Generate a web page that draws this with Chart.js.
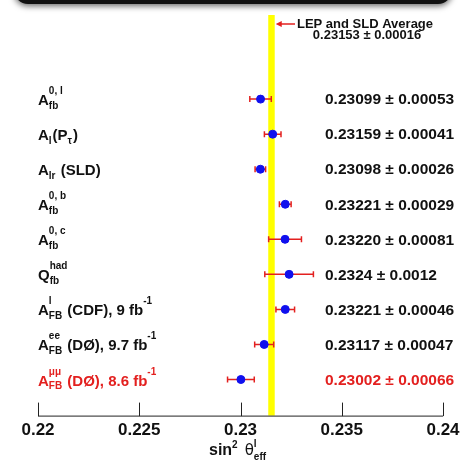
<!DOCTYPE html>
<html>
<head>
<meta charset="utf-8">
<script src="https://cdn.jsdelivr.net/npm/chart.js@4/dist/chart.umd.min.js"></script>
<style>
  body { margin: 0; background: #fff; }
  canvas { display: block; }
</style>
</head>
<body>
<canvas id="ewChart" width="462" height="476"></canvas>
<script>
// measurement names (main text + sub/superscripts)
const labels = [
  ['A', {sub: 'fb', sup: '0, l'}],
  ['A', {sub: 'l'}, '(P', {sub: 'τ'}, ')'],
  ['A', {sub: 'lr'}, ' (SLD)'],
  ['A', {sub: 'fb', sup: '0, b'}],
  ['A', {sub: 'fb', sup: '0, c'}],
  ['Q', {sub: 'fb', sup: 'had'}],
  ['A', {sub: 'FB', sup: 'l'}, ' (CDF), 9 fb', {sup: '-1'}],
  ['A', {sub: 'FB', sup: 'ee'}, ' (DØ), 9.7 fb', {sup: '-1'}],
  ['A', {sub: 'FB', sup: 'μμ'}, ' (DØ), 8.6 fb', {sup: '-1'}]
];
const values = [0.23099, 0.23159, 0.23098, 0.23221, 0.23220, 0.2324, 0.23221, 0.23117, 0.23002];
const errors = [0.00053, 0.00041, 0.00026, 0.00029, 0.00081, 0.0012, 0.00046, 0.00047, 0.00066];
const valueText = [
  '0.23099 ± 0.00053', '0.23159 ± 0.00041', '0.23098 ± 0.00026',
  '0.23221 ± 0.00029', '0.23220 ± 0.00081', '0.2324 ± 0.0012',
  '0.23221 ± 0.00046', '0.23117 ± 0.00047', '0.23002 ± 0.00066'
];
const average = 0.23153;
const averageErr = 0.00016;
const xTicks = [0.22, 0.225, 0.23, 0.235, 0.24];

const RED = '#e3201f';
const BLUE = '#1010ee';

// row position: first row at the top
const rowY = i => 9 - i;

function drawRich(ctx, x, y, parts, color, mainFont, smallFont, subDy = 3.5, supDy = -11) {
  ctx.fillStyle = color;
  ctx.textBaseline = 'alphabetic';
  ctx.textAlign = 'left';
  parts.forEach(p => {
    if (typeof p === 'string') {
      ctx.font = mainFont;
      ctx.fillText(p, x, y);
      x += ctx.measureText(p).width;
    } else {
      ctx.font = smallFont;
      let w = 0;
      if (p.sub) { ctx.fillText(p.sub, x, y + subDy); w = Math.max(w, ctx.measureText(p.sub).width); }
      if (p.sup) { ctx.fillText(p.sup, x, y + supDy); w = Math.max(w, ctx.measureText(p.sup).width); }
      x += w + 1;
    }
  });
  return x;
}

const overlay = {
  id: 'overlay',
  beforeDatasetsDraw(chart) {
    const ctx = chart.ctx;
    const xs = chart.scales.x, ys = chart.scales.y;
    const area = chart.chartArea;
    ctx.save();
    // yellow band for the average
    const b0 = xs.getPixelForValue(average - averageErr);
    const b1 = xs.getPixelForValue(average + averageErr);
    ctx.fillStyle = '#ffff00';
    ctx.fillRect(b0, area.top, b1 - b0, area.bottom - area.top);
    // axis line + upward ticks
    ctx.strokeStyle = '#222';
    ctx.lineWidth = 1;
    ctx.beginPath();
    ctx.moveTo(xs.getPixelForValue(xTicks[0]), area.bottom + 0.5);
    ctx.lineTo(xs.getPixelForValue(xTicks[xTicks.length - 1]), area.bottom + 0.5);
    xTicks.forEach(t => {
      const px = Math.round(xs.getPixelForValue(t)) + 0.5;
      ctx.moveTo(px, area.bottom + 0.5);
      ctx.lineTo(px, area.bottom - 13);
    });
    ctx.stroke();
    // error bars
    ctx.strokeStyle = RED;
    ctx.lineWidth = 1.5;
    values.forEach((v, i) => {
      const y = ys.getPixelForValue(rowY(i));
      const l = xs.getPixelForValue(v - errors[i]);
      const r = xs.getPixelForValue(v + errors[i]);
      ctx.beginPath();
      ctx.moveTo(l, y); ctx.lineTo(r, y);
      ctx.moveTo(l, y - 3); ctx.lineTo(l, y + 3);
      ctx.moveTo(r, y - 3); ctx.lineTo(r, y + 3);
      ctx.stroke();
    });
    ctx.restore();
  },
  afterDraw(chart) {
    const ctx = chart.ctx;
    const xs = chart.scales.x, ys = chart.scales.y;
    ctx.save();
    // row labels and values
    labels.forEach((parts, i) => {
      const y = ys.getPixelForValue(rowY(i));
      const color = i === labels.length - 1 ? RED : '#111';
      drawRich(ctx, 38, y + 6, parts, color, 'bold 15px "Liberation Sans", Arial, sans-serif', 'bold 10px "Liberation Sans", Arial, sans-serif');
      ctx.fillStyle = color;
      ctx.font = 'bold 15.5px "Liberation Sans", Arial, sans-serif';
      ctx.textBaseline = 'middle';
      ctx.textAlign = 'left';
      ctx.fillText(valueText[i], 325, y + 1);
    });
    // average annotation with arrow
    const ax = xs.getPixelForValue(average + averageErr) + 1;
    ctx.strokeStyle = RED;
    ctx.fillStyle = RED;
    ctx.lineWidth = 1.5;
    ctx.beginPath();
    ctx.moveTo(ax + 2, 24); ctx.lineTo(295, 24);
    ctx.stroke();
    ctx.beginPath();
    ctx.moveTo(ax, 24); ctx.lineTo(ax + 6, 21); ctx.lineTo(ax + 6, 27); ctx.closePath();
    ctx.fill();
    ctx.fillStyle = '#111';
    ctx.font = 'bold 13px "Liberation Sans", Arial, sans-serif';
    ctx.textAlign = 'center';
    ctx.textBaseline = 'middle';
    ctx.fillText('LEP and SLD Average', 365, 24);
    ctx.fillText(average.toFixed(5) + ' ± ' + averageErr.toFixed(5), 367, 35);
    // axis title
    const smallF = 'bold 10px "Liberation Sans", Arial, sans-serif';
    let tx = drawRich(ctx, 209, 455, ['sin', {sup: '2'}], '#111', 'bold 16px "Liberation Sans", Arial, sans-serif', smallF, 3.5, -7);
    drawRich(ctx, tx + 6, 455, ['θ', {sub: 'eff', sup: 'l'}], '#111', '15px "DejaVu Sans", sans-serif', smallF, 5, -8);
    // dark frame at the top
    ctx.shadowColor = 'rgba(0,0,0,0.6)';
    ctx.shadowBlur = 6;
    ctx.shadowOffsetY = 2;
    ctx.fillStyle = '#111';
    ctx.beginPath();
    ctx.roundRect(14, -30, 438, 34, 14);
    ctx.fill();
    ctx.restore();
  }
};

new Chart(document.getElementById('ewChart'), {
  type: 'scatter',
  data: {
    datasets: [{
      data: values.map((v, i) => ({x: v, y: rowY(i)})),
      backgroundColor: BLUE,
      borderColor: BLUE,
      pointRadius: 4,
      pointHoverRadius: 4
    }]
  },
  options: {
    responsive: false,
    animation: false,
    devicePixelRatio: 1,
    layout: { padding: { left: 38, right: 19, top: 15, bottom: 38 } },
    plugins: { legend: { display: false }, tooltip: { enabled: false } },
    scales: {
      x: {
        type: 'linear',
        min: 0.22,
        max: 0.24,
        grid: { display: false },
        border: { display: false },
        afterBuildTicks: axis => { axis.ticks = xTicks.map(v => ({value: v})); },
        ticks: {
          color: '#111',
          padding: -3,
          maxRotation: 0,
          font: { family: '"Liberation Sans", Arial, sans-serif', size: 17, weight: 'bold' },
          callback: v => String(+v.toFixed(3))
        }
      },
      y: { display: false, min: -0.03, max: 11.4 }
    }
  },
  plugins: [overlay]
});
</script>
</body>
</html>
